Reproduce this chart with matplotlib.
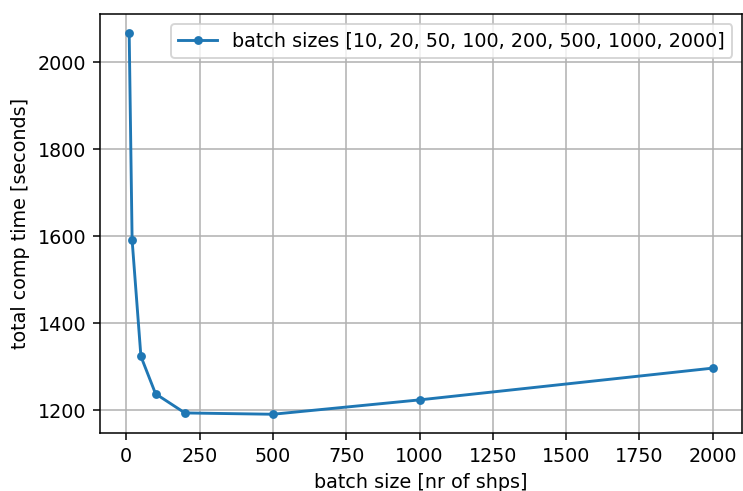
import matplotlib
matplotlib.use("Agg")
import matplotlib.pyplot as plt

# total computation time per batch size
batch_sizes = [10, 20, 50, 100, 200, 500, 1000, 2000]
comp_time = [2066, 1591, 1324, 1238, 1194, 1191, 1224, 1297]

DPI = 138
fig = plt.figure(figsize=(743 / DPI, 491 / DPI), dpi=DPI)
ax = fig.add_axes([100 / 743, 1 - 433.3 / 491, 642 / 743, (433.3 - 14.3) / 491])
ax.plot(batch_sizes, comp_time, "-o", markersize=3.6,
        label=f"batch sizes {batch_sizes}")
ax.set_xlabel("batch size [nr of shps]")
ax.set_ylabel("total comp time [seconds]")
ax.grid(True)
ax.legend(loc="upper right")
fig.savefig("out.png", dpi=DPI)
